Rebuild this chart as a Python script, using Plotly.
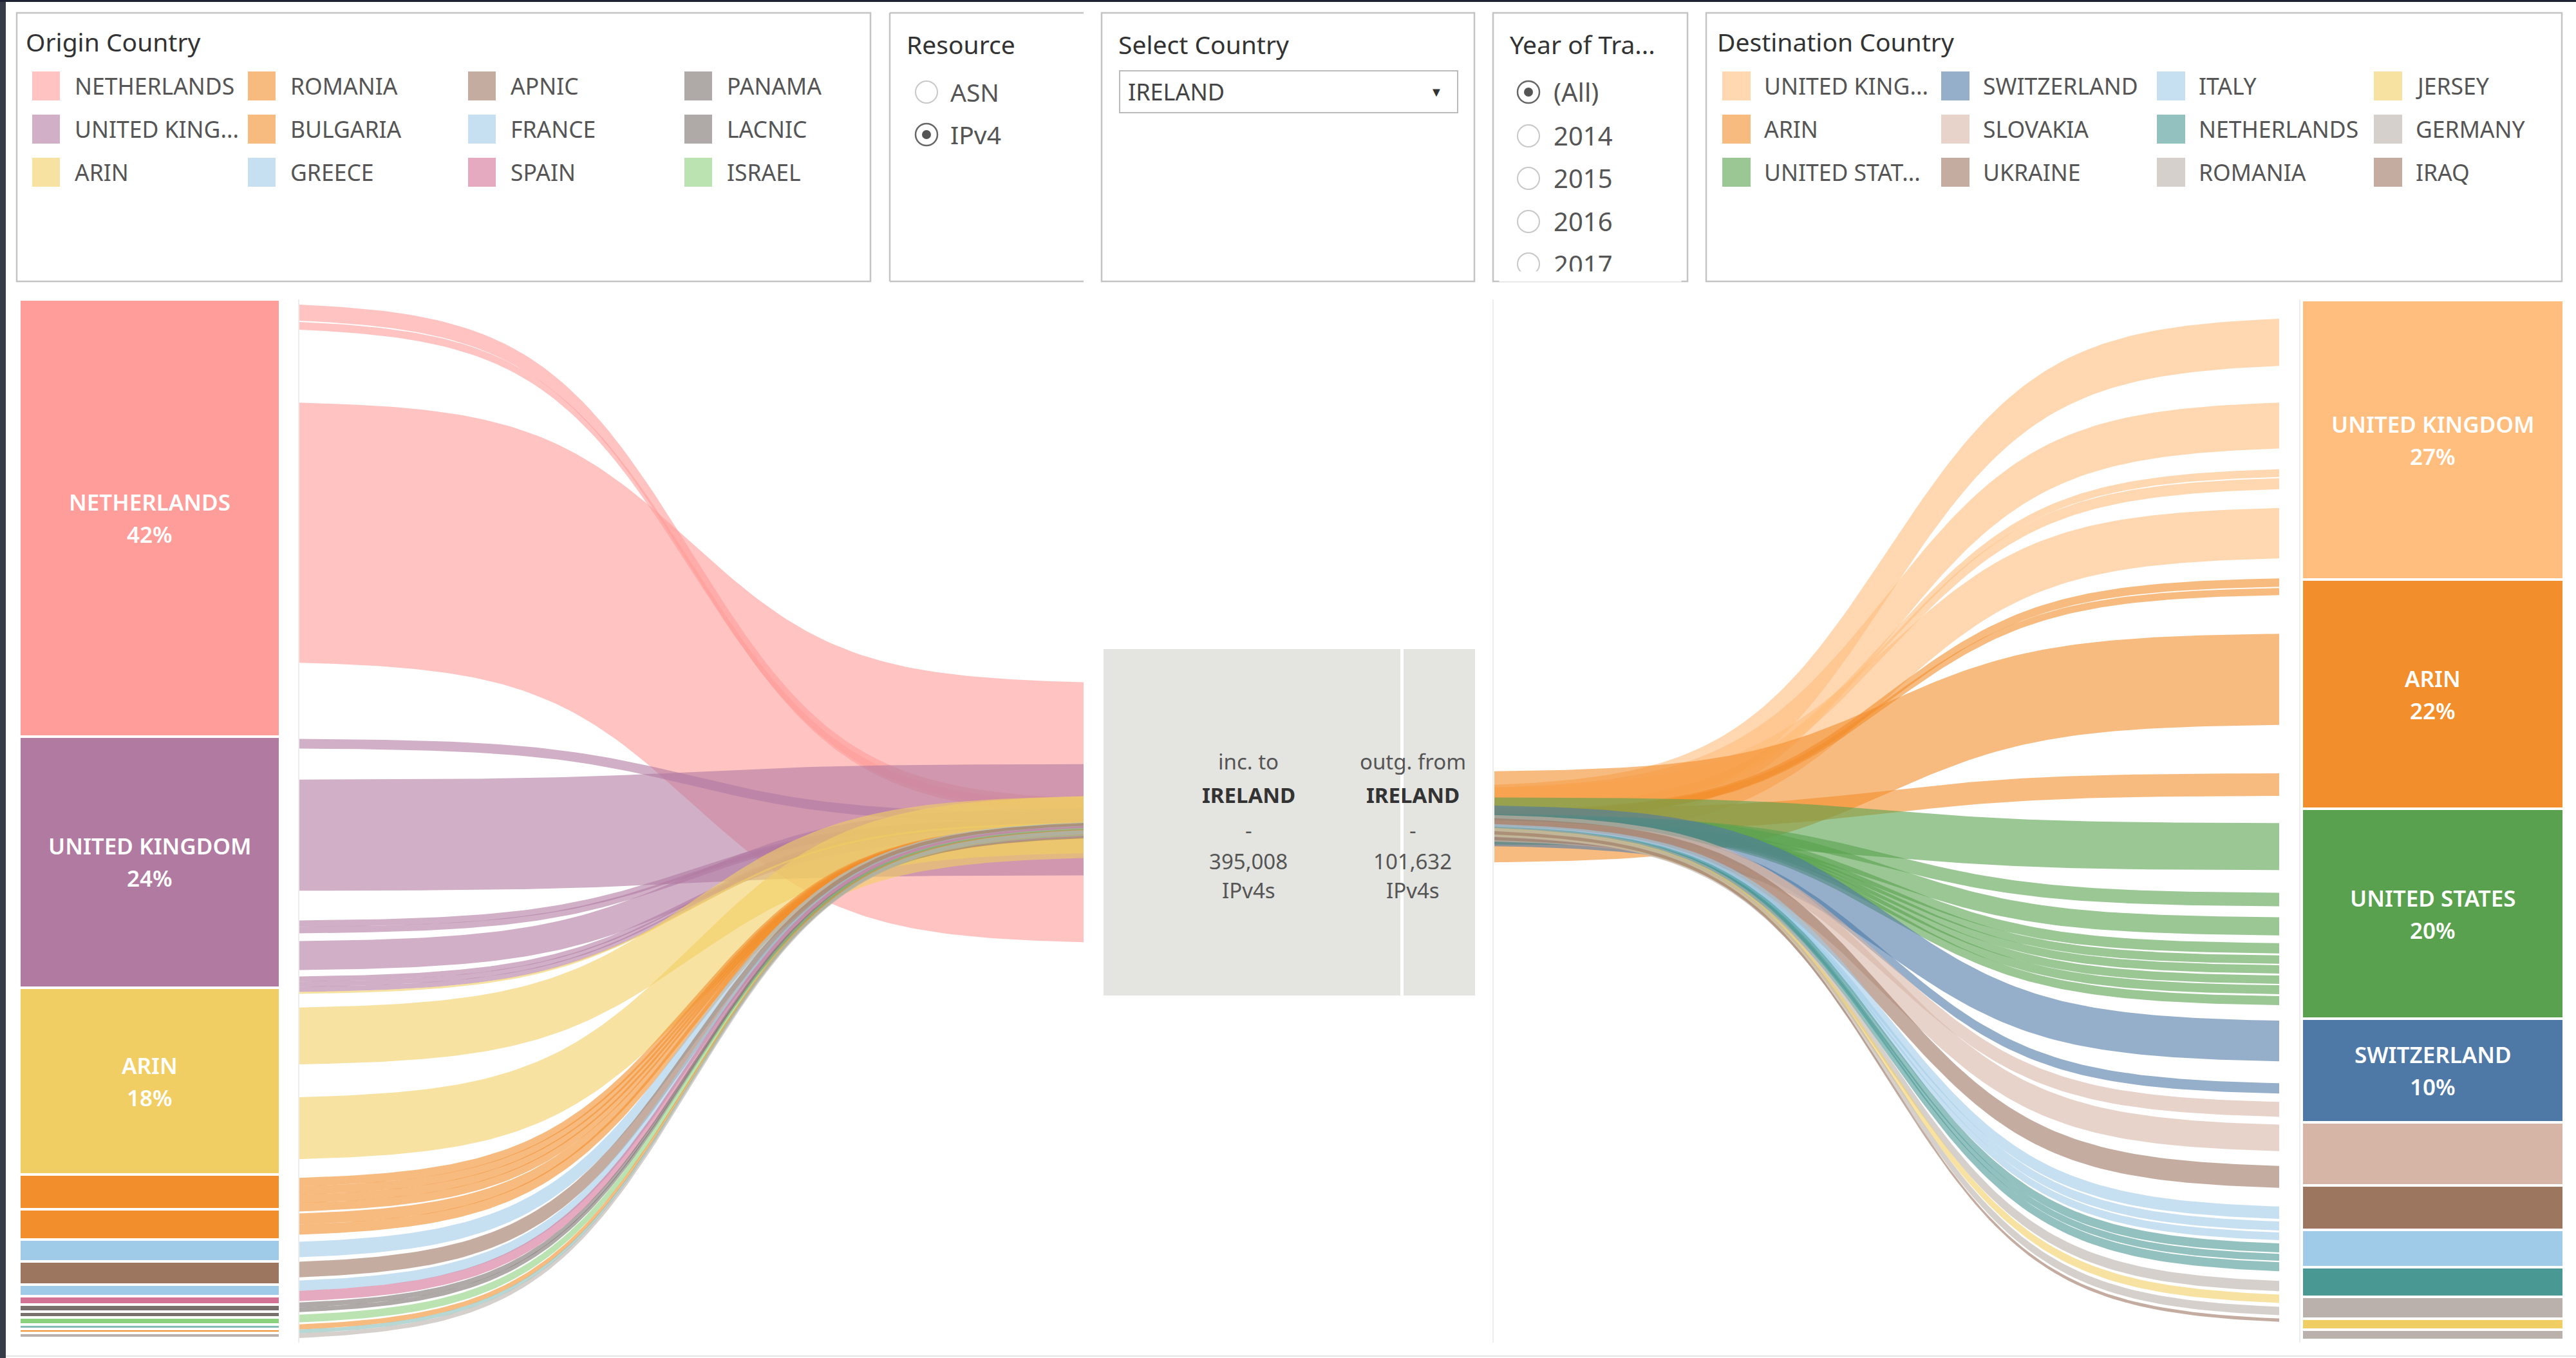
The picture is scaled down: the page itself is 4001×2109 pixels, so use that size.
import numpy as np
import plotly.graph_objects as go

W, H = 4001, 2109

# ---------------- data ----------------
origin_countries = ["NETHERLANDS", "UNITED KINGDOM", "ARIN", "ROMANIA", "BULGARIA", "GREECE",
                    "APNIC", "FRANCE", "SPAIN", "PANAMA", "LACNIC", "ISRAEL",
                    "OTHER 1", "OTHER 2", "OTHER 3", "OTHER 4"]
origin_ipv4 = [166000, 95500, 71000, 13000, 11500, 8500, 8800, 4200, 3400, 2700, 2200, 2700,
               1500, 1500, 1900, 608]
origin_colors = ["#FF9D9A", "#B07AA1", "#F1CE63", "#F28E2B", "#F28E2B", "#A0CBE8",
                 "#9D7660", "#A0CBE8", "#D37295", "#79706E", "#79706E", "#8CD17D",
                 "#86BCB6", "#F28E2B", "#BAB0AC", "#FFBEBE"]

dest_countries = ["UNITED KINGDOM", "ARIN", "UNITED STATES", "SWITZERLAND", "SLOVAKIA", "UKRAINE",
                  "ITALY", "NETHERLANDS", "ROMANIA", "JERSEY", "GERMANY", "IRAQ"]
dest_ipv4 = [27300, 22400, 20500, 10100, 6200, 4300, 3650, 2900, 2150, 1050, 1000, 82]
dest_colors = ["#FFBE7D", "#F28E2B", "#59A14F", "#4E79A7", "#D7B5A6", "#9D7660",
               "#A0CBE8", "#499894", "#BAB0AC", "#F1CE63", "#BAB0AC", "#9D7660"]

# incoming ribbons (origin -> selected country): unallocated IPv4 before ribbon, ribbon IPv4
in_flow_origin = (["NETHERLANDS"] * 3 + ["UNITED KINGDOM"] * 8 + ["ARIN"] * 3 + ["ROMANIA"] * 4
                  + ["BULGARIA"] * 2 + ["GREECE", "APNIC", "FRANCE", "SPAIN", "PANAMA", "LACNIC",
                                        "ISRAEL", "OTHER 2", "OTHER 1", "OTHER 3"])
in_flow_gap = [1960, 490, 27700,
               28900, 11800, 11300, 0, 2940, 2450, 0, 0,
               0, 5150, 12500,
               7110, 0, 0, 0,
               740, 0,
               2700, 1720, 1230, 0, 490, 0, 980, 740, 0, 0]
in_flow_ipv4 = [6130, 2940, 98800,
                3680, 42200, 2450, 2450, 11000, 1960, 1960, 1960,
                740, 21600, 23500,
                3190, 3190, 3190, 3190,
                4170, 3920,
                5880, 5880, 3920, 3920, 1960, 1720, 2940, 1960, 1470, 1720]

# outgoing ribbons (selected country -> destination)
out_flow_dest = (["UNITED KINGDOM"] * 5 + ["ARIN"] * 4 + ["UNITED STATES"] * 9 + ["SWITZERLAND"] * 2
                 + ["SLOVAKIA"] * 2 + ["UKRAINE"] + ["ITALY"] * 3 + ["NETHERLANDS"] * 3
                 + ["ROMANIA", "JERSEY", "GERMANY", "IRAQ"])
out_flow_gap = [1830, 3590, 2020, 130, 1830,
                1950, 130, 3780, 4730,
                2650, 2210, 1070, 760, 190, 130, 190, 130, 190,
                1510, 2140,
                820, 760,
                1450,
                1830, 250, 190,
                320, 130, 130,
                950, 320, 380, 320]
out_flow_ipv4 = [4600, 4480, 760, 1070, 4920,
                 820, 690, 8890, 2210,
                 4600, 1320, 1770, 1010, 820, 820, 820, 880, 880,
                 3970, 1010,
                 1450, 2590,
                 2140,
                 1200, 880, 760,
                 880, 690, 880,
                 1010, 820, 820, 320]

resource_options = ["ASN", "IPv4"]
resource_selected = "IPv4"
selected_country = "IRELAND"
year_options = ["(All)", "2014", "2015", "2016", "2017"]
year_selected = "(All)"

# ---------------- helpers ----------------
FONT = "Noto Sans"


def rgba(h, a):
    h = h.lstrip("#")
    r, g, b = int(h[0:2], 16), int(h[2:4], 16), int(h[4:6], 16)
    return f"rgba({r},{g},{b},{a})"


def PX(x):
    return x / W


def PY(y):
    return 1 - y / H


shapes = []
annotations = []


def rect(x0, y0, x1, y1, fill=None, line=None, lw=0, layer="below"):
    shapes.append(dict(type="rect", xref="paper", yref="paper", x0=PX(x0), x1=PX(x1),
                       y0=PY(y1), y1=PY(y0), fillcolor=fill or "rgba(0,0,0,0)",
                       line=dict(color=line or "rgba(0,0,0,0)", width=lw), layer=layer))


def seg(x0, y0, x1, y1, color, lw):
    shapes.append(dict(type="line", xref="paper", yref="paper", x0=PX(x0), x1=PX(x1),
                       y0=PY(y0), y1=PY(y1), line=dict(color=color, width=lw)))


def circle(cx, cy, r, fill=None, line=None, lw=0):
    shapes.append(dict(type="circle", xref="paper", yref="paper", x0=PX(cx - r), x1=PX(cx + r),
                       y0=PY(cy + r), y1=PY(cy - r), fillcolor=fill or "rgba(0,0,0,0)",
                       line=dict(color=line or "rgba(0,0,0,0)", width=lw)))


def text(x, y, t, size, color="#555555", anchor="left", weight="normal", **kw):
    annotations.append(dict(x=PX(x), y=PY(y), xref="paper", yref="paper", text=t,
                            showarrow=False, xanchor=anchor, yanchor="middle",
                            font=dict(family=FONT, size=size, color=color, weight=weight), **kw))


def short(n):
    return n if len(n) <= 11 else n[:11] + "..."


fig = go.Figure()
total_in = sum(origin_ipv4)
total_out = sum(dest_ipv4)

# ---------------- sankey ribbons ----------------
A = 5.0
s = np.linspace(0, 1, 120)
sig = lambda t: 1 / (1 + np.exp(-t))
f = (sig(2 * A * s - A) - sig(-A)) / (sig(A) - sig(-A))
alpha = 0.025

oc = dict(zip(origin_countries, origin_colors))
dc = dict(zip(dest_countries, dest_colors))

C_in = total_in / 2
pos = 0.0
for o, g, v in zip(in_flow_origin, in_flow_gap, in_flow_ipv4):
    pos += g
    top0 = pos
    c1 = C_in + alpha * (top0 + v / 2 - C_in)
    top1 = c1 - v / 2
    top = top0 + (top1 - top0) * f
    fig.add_trace(go.Scatter(x=np.concatenate([s, s[::-1]]),
                             y=np.concatenate([top, (top + v)[::-1]]),
                             fill="toself", fillcolor=rgba(oc[o], 0.6), mode="lines",
                             line=dict(width=0), xaxis="x2", yaxis="y",
                             hoverinfo="skip", showlegend=False))
    pos += v

C_out = total_out / 2
pos = 0.0
for d, g, v in zip(out_flow_dest, out_flow_gap, out_flow_ipv4):
    pos += g
    top1 = pos
    c0 = C_out + alpha * (top1 + v / 2 - C_out)
    top0 = c0 - v / 2
    top = top0 + (top1 - top0) * f
    fig.add_trace(go.Scatter(x=np.concatenate([s, s[::-1]]),
                             y=np.concatenate([top, (top + v)[::-1]]),
                             fill="toself", fillcolor=rgba(dc[d], 0.6), mode="lines",
                             line=dict(width=0), xaxis="x4", yaxis="y2",
                             hoverinfo="skip", showlegend=False))
    pos += v

# ---------------- stacked bars ----------------
for n, v, c in zip(origin_countries, origin_ipv4, origin_colors):
    fig.add_trace(go.Bar(x=[0], y=[v], width=1, marker=dict(color=c, line=dict(color="white", width=4)),
                         xaxis="x", yaxis="y", hoverinfo="skip", showlegend=False, name=n))
for n, v, c in zip(dest_countries, dest_ipv4, dest_colors):
    fig.add_trace(go.Bar(x=[0], y=[v], width=1, marker=dict(color=c, line=dict(color="white", width=4)),
                         xaxis="x3", yaxis="y2", hoverinfo="skip", showlegend=False, name=n))


def bar_labels(names, vals, xref, yref):
    tot = sum(vals)
    cum = np.cumsum(vals)
    for n, v, c in zip(names, vals, cum):
        share = v / tot
        if share >= 0.09:
            mid = c - v / 2
            for t, sh in ((n, 25), (f"{round(share * 100)}%", -25)):
                annotations.append(dict(x=0, y=mid, xref=xref, yref=yref, text=t, showarrow=False,
                                        yshift=sh, font=dict(family=FONT, size=35, color="white",
                                                             weight=600)))


bar_labels(origin_countries, origin_ipv4, "x", "y")
bar_labels(dest_countries, dest_ipv4, "x3", "y2")

# ---------------- dashboard chrome ----------------
BORDER = "#C4C4C4"
# dark frame
rect(0, 0, 9, H, fill="#373B48", layer="above")
rect(0, 0, W, 3, fill="#1E2232", layer="above")

# panels
rect(26, 20, 1352, 437, line=BORDER, lw=2.5)
seg(1382, 20, 1683, 20, BORDER, 2.5)
seg(1382, 437, 1683, 437, BORDER, 2.5)
seg(1382, 20, 1382, 437, BORDER, 2.5)
rect(1711, 20, 2290, 437, line=BORDER, lw=2.5)
rect(2319, 20, 2621, 437, line=BORDER, lw=2.5)
rect(2650, 20, 3979, 437, line=BORDER, lw=2.5)

# legends
TS = 39
text(38, 64, "Origin Country", TS, color="#333333")
text(2665, 64, "Destination Country", TS, color="#333333")
rows = [133, 200, 267]
ocols = [50, 385, 727, 1063]
dcols = [2675, 3015, 3350, 3687]
for i in range(12):
    col, row = i // 3, i % 3
    y = rows[row]
    x0 = ocols[col]
    rect(x0, y - 22, x0 + 43, y + 23, fill=rgba(origin_colors[i], 0.6))
    text(x0 + 64, y, short(origin_countries[i]), 35.5)
    x0 = dcols[col]
    rect(x0, y - 22, x0 + 44, y + 23, fill=rgba(dest_colors[i], 0.6))
    text(x0 + 63, y, short(dest_countries[i]), 35.5)

# resource radio
text(1406, 69, "Resource", TS, color="#333333")
for opt, y in zip(resource_options, [143, 209]):
    if opt == resource_selected:
        circle(1439, y, 17, fill="white", line="#666666", lw=2.5)
        circle(1439, y, 7, fill="#555555")
    else:
        circle(1439, y, 17, fill="white", line="#C8C8C8", lw=2)
    text(1474, y, opt, 39, color="#555555")

# select country dropdown
text(1735, 69, "Select Country", TS, color="#333333")
rect(1739, 110, 2264, 175, fill="white", line="#BBBBBB", lw=2)
text(1750, 143, selected_country, 36, color="#444444")
text(2231, 143, "▼", 20, color="#333333", anchor="center")

# year radio
text(2343, 69, "Year of Tra...", TS, color="#333333")
for opt, y in zip(year_options, [143, 211, 277, 344, 410]):
    if opt == year_selected:
        circle(2374, y, 17, fill="white", line="#666666", lw=2.5)
        circle(2374, y, 7, fill="#555555")
    else:
        circle(2374, y, 17, fill="white", line="#C8C8C8", lw=2)
    text(2411, y, opt, 40, color="#555555")
annotations.append(dict(x=PX(2470), y=PY(429), xref="paper", yref="paper", text=" ", showarrow=False,
                        xanchor="center", yanchor="middle", width=280, height=13, bgcolor="white",
                        font=dict(size=6)))

# sheet separators
for x in (464, 2319, 3572):
    seg(x, 465, x, 2085, "#EDEDED", 2)
seg(9, 2106, W, 2106, "#E4E4E4", 2)

# center summary box
rect(1714, 1008, 2291, 1546, fill="#E4E4E0")
rect(2175, 1008, 2180, 1546, fill="white")
for cx, head, tot in ((1939, "inc. to", total_in), (2194, "outg. from", total_out)):
    text(cx, 1182, head, 33, color="#555555", anchor="center")
    text(cx, 1234, selected_country, 33, color="#333333", anchor="center", weight="bold")
    text(cx, 1289, "-", 33, color="#555555", anchor="center")
    text(cx, 1337, f"{tot:,}", 33, color="#555555", anchor="center")
    text(cx, 1382, resource_selected + "s", 33, color="#555555", anchor="center")

ax = dict(visible=False, showgrid=False, zeroline=False, fixedrange=True)
fig.update_layout(
    width=W, height=H, margin=dict(l=0, r=0, t=0, b=0, pad=0),
    paper_bgcolor="white", plot_bgcolor="rgba(0,0,0,0)",
    barmode="stack", bargap=0, showlegend=False,
    font=dict(family=FONT),
    xaxis=dict(domain=[PX(30), PX(435)], range=[-0.5, 0.5], anchor="y", **ax),
    yaxis=dict(domain=[PY(2080), PY(465)], range=[total_in, 0], anchor="x", **ax),
    xaxis2=dict(domain=[PX(464), PX(1683)], range=[0, 1], anchor="y", **ax),
    xaxis3=dict(domain=[PX(3575), PX(3982)], range=[-0.5, 0.5], anchor="y2", **ax),
    yaxis2=dict(domain=[PY(2082), PY(466)], range=[total_out, 0], anchor="x3", **ax),
    xaxis4=dict(domain=[PX(2321), PX(3540)], range=[0, 1], anchor="y2", **ax),
    shapes=shapes, annotations=annotations,
)

fig.write_html("out.html", config={"displayModeBar": False},
               post_script="document.body.style.margin='0px';document.body.style.overflow='hidden';")
